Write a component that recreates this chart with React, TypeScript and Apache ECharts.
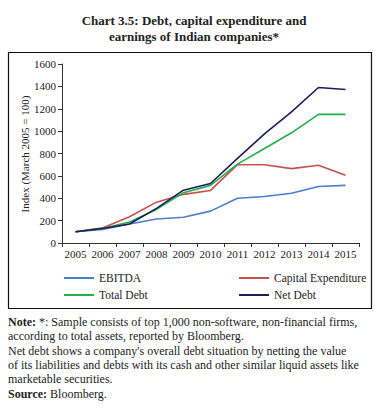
import React, { useEffect, useRef } from "react";
import * as echarts from "echarts";

const years = ["2005", "2006", "2007", "2008", "2009", "2010", "2011", "2012", "2013", "2014", "2015"];
const ebitda = [100, 120, 170, 215, 230, 285, 400, 415, 445, 505, 515];
const capex = [100, 135, 235, 365, 435, 470, 700, 700, 665, 695, 605];
const totalDebt = [100, 130, 188, 300, 450, 515, 705, 845, 985, 1150, 1150];
const netDebt = [100, 130, 170, 310, 472, 532, 757, 975, 1172, 1390, 1372];

const seriesNames = ["EBITDA", "Capital Expenditure", "Total Debt", "Net Debt"];
const seriesColors = ["#4a7ed0", "#c8504f", "#22b04b", "#1c1d5c"];

const titleLines = ["Chart 3.5: Debt, capital expenditure and", "earnings of Indian companies*"];
const yAxisName = "Index (March 2005 = 100)";
const noteLines = [
  "{b|Note:} *: Sample consists of top 1,000 non-software, non-financial firms,",
  "according to total assets, reported by Bloomberg.",
  "Net debt shows a company's overall debt situation by netting the value",
  "of its liabilities and debts with its cash and other similar liquid assets like",
  "marketable securities.",
  "{b|Source:} Bloomberg.",
];

const FONT = "Liberation Serif";

export default function App() {
  const ref = useRef<HTMLDivElement>(null);
  useEffect(() => {
    if (!ref.current) return;
    const chart = echarts.init(ref.current, null, { renderer: "svg" });
    const data = [ebitda, capex, totalDebt, netDebt];
    const legendText = { fontFamily: FONT, fontSize: 11.5, color: "#222" };
    chart.setOption({
      animation: false,
      backgroundColor: "#ffffff",
      textStyle: { fontFamily: FONT },
      title: {
        text: titleLines.join("\n"),
        left: "center",
        top: 7,
        textStyle: { fontFamily: FONT, fontSize: 13, fontWeight: "bold", color: "#222", lineHeight: 16 },
      },
      grid: { left: 62, right: 29, top: 64, bottom: 171, containLabel: false },
      xAxis: {
        type: "category",
        data: years,
        boundaryGap: true,
        axisLine: { lineStyle: { color: "#333", width: 1 } },
        axisTick: { show: true, inside: false, length: 4, lineStyle: { color: "#333" } },
        axisLabel: { fontFamily: FONT, fontSize: 11, color: "#222", margin: 5, interval: 0 },
      },
      yAxis: {
        type: "value",
        min: 0,
        max: 1600,
        interval: 200,
        axisLine: { show: true, lineStyle: { color: "#333", width: 1 } },
        axisTick: { show: true, length: 4, lineStyle: { color: "#333" } },
        splitLine: { show: false },
        axisLabel: {
          fontFamily: FONT,
          fontSize: 11,
          color: "#222",
          margin: 6,
          formatter: (v: number) => String(v),
        },
      },
      legend: [
        {
          data: [seriesNames[0], seriesNames[2]],
          orient: "vertical",
          left: 59,
          top: 267,
          itemWidth: 30,
          itemHeight: 2,
          itemGap: 5,
          icon: "rect",
          textStyle: legendText,
        },
        {
          data: [seriesNames[1], seriesNames[3]],
          orient: "vertical",
          left: 234,
          top: 267,
          itemWidth: 30,
          itemHeight: 2,
          itemGap: 5,
          icon: "rect",
          textStyle: legendText,
        },
      ],
      series: seriesNames.map((n, i) => ({
        name: n,
        type: "line",
        data: data[i],
        symbol: "none",
        color: seriesColors[i],
        lineStyle: { width: 1.6, color: seriesColors[i] },
      })),
      graphic: [
        {
          type: "rect",
          shape: { x: 8.5, y: 52.5, width: 363, height: 256 },
          style: { fill: "none", stroke: "#111", lineWidth: 1.2 },
          silent: true,
        },
        {
          type: "text",
          x: 25,
          y: 154,
          rotation: Math.PI / 2,
          style: {
            text: yAxisName,
            fontFamily: FONT,
            fontSize: 11,
            fill: "#222",
            align: "center",
            verticalAlign: "middle",
          },
        },
        {
          type: "text",
          left: 8,
          top: 315,
          style: {
            text: noteLines.join("\n"),
            fontFamily: FONT,
            fontSize: 12,
            lineHeight: 14.3,
            fill: "#222",
            rich: {
              b: { fontFamily: FONT, fontSize: 12, fontWeight: "bold", fill: "#222", lineHeight: 14.3 },
            },
          },
        },
      ],
    });
    return () => chart.dispose();
  }, []);
  return <div ref={ref} style={{ position: "absolute", left: 0, top: 0, width: 388, height: 414 }} />;
}
